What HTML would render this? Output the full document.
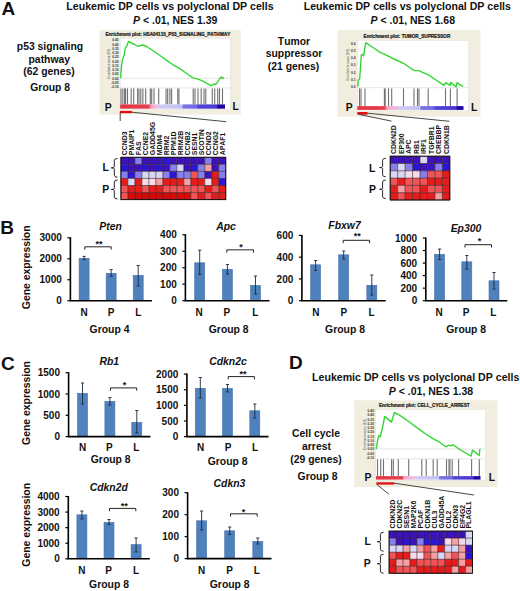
<!DOCTYPE html><html><head><meta charset="utf-8"><style>html,body{margin:0;padding:0;background:#fff;}svg{display:block;}text{font-family:"Liberation Sans",sans-serif;font-kerning:none;}</style></head><body>
<svg width="520" height="591" viewBox="0 0 520 591">
<rect width="520" height="591" fill="#fff"/>
<text x="1.6" y="15.2" font-size="19" text-anchor="start" font-weight="bold" fill="#111">A</text>
<text x="0.2" y="233.6" font-size="19" text-anchor="start" font-weight="bold" fill="#111">B</text>
<text x="0.9" y="370.3" font-size="19" text-anchor="start" font-weight="bold" fill="#111">C</text>
<text x="289.0" y="368.6" font-size="19" text-anchor="start" font-weight="bold" fill="#111">D</text>
<rect x="79.10" y="258.30" width="10.0" height="42.40" fill="#4f81bd" stroke="#4672aa" stroke-width="0.6"/>
<rect x="106.15" y="273.30" width="10.0" height="27.40" fill="#4f81bd" stroke="#4672aa" stroke-width="0.6"/>
<rect x="133.20" y="275.30" width="10.0" height="25.40" fill="#4f81bd" stroke="#4672aa" stroke-width="0.6"/>
<path d="M84.10 256.40V259.60M82.50 256.40H85.70M82.50 259.60H85.70" stroke="#1c2a40" stroke-width="0.9" fill="none"/>
<path d="M111.15 269.50V276.20M109.55 269.50H112.75M109.55 276.20H112.75" stroke="#1c2a40" stroke-width="0.9" fill="none"/>
<path d="M138.20 265.50V286.00M136.60 265.50H139.80M136.60 286.00H139.80" stroke="#1c2a40" stroke-width="0.9" fill="none"/>
<path d="M70.4 237.30V300.70H151.9" stroke="#000" stroke-width="1.6" fill="none"/>
<path d="M67.40 300.70H70.4" stroke="#000" stroke-width="1.2"/>
<text x="61.800000000000004" y="304.3" font-size="10.0" text-anchor="end" font-weight="bold" fill="#111">0</text>
<path d="M67.40 279.73H70.4" stroke="#000" stroke-width="1.2"/>
<text x="61.800000000000004" y="283.33333333333337" font-size="10.0" text-anchor="end" font-weight="bold" fill="#111">1000</text>
<path d="M67.40 258.77H70.4" stroke="#000" stroke-width="1.2"/>
<text x="61.800000000000004" y="262.3666666666667" font-size="10.0" text-anchor="end" font-weight="bold" fill="#111">2000</text>
<path d="M67.40 237.80H70.4" stroke="#000" stroke-width="1.2"/>
<text x="61.800000000000004" y="241.4" font-size="10.0" text-anchor="end" font-weight="bold" fill="#111">3000</text>
<text x="84.1" y="316" font-size="10.0" text-anchor="middle" font-weight="bold" fill="#111">N</text>
<text x="111.1" y="316" font-size="10.0" text-anchor="middle" font-weight="bold" fill="#111">P</text>
<text x="138.2" y="316" font-size="10.0" text-anchor="middle" font-weight="bold" fill="#111">L</text>
<text x="109.5" y="332.7" font-size="10.4" text-anchor="middle" font-weight="bold" fill="#111">Group 4</text>
<text x="110.5" y="230" font-size="10.4" text-anchor="middle" font-weight="bold" font-style="italic" fill="#111">Pten</text>
<path d="M84.8 249.60000000000002V246.8H111.2V249.60000000000002" stroke="#222" stroke-width="1.0" fill="none"/>
<text x="98.9" y="247.0" font-size="9" text-anchor="middle" font-weight="bold" fill="#111">**</text>
<rect x="194.70" y="262.80" width="10.0" height="37.90" fill="#4f81bd" stroke="#4672aa" stroke-width="0.6"/>
<rect x="222.40" y="269.30" width="10.0" height="31.40" fill="#4f81bd" stroke="#4672aa" stroke-width="0.6"/>
<rect x="250.50" y="285.30" width="10.0" height="15.40" fill="#4f81bd" stroke="#4672aa" stroke-width="0.6"/>
<path d="M199.70 250.20V274.50M198.10 250.20H201.30M198.10 274.50H201.30" stroke="#1c2a40" stroke-width="0.9" fill="none"/>
<path d="M227.40 264.50V274.00M225.80 264.50H229.00M225.80 274.00H229.00" stroke="#1c2a40" stroke-width="0.9" fill="none"/>
<path d="M255.50 276.00V294.00M253.90 276.00H257.10M253.90 294.00H257.10" stroke="#1c2a40" stroke-width="0.9" fill="none"/>
<path d="M185.4 234.25V300.70H269.5" stroke="#000" stroke-width="1.6" fill="none"/>
<path d="M182.40 300.70H185.4" stroke="#000" stroke-width="1.2"/>
<text x="176.8" y="304.3" font-size="10.0" text-anchor="end" font-weight="bold" fill="#111">0</text>
<path d="M182.40 284.21H185.4" stroke="#000" stroke-width="1.2"/>
<text x="176.8" y="287.8125" font-size="10.0" text-anchor="end" font-weight="bold" fill="#111">100</text>
<path d="M182.40 267.73H185.4" stroke="#000" stroke-width="1.2"/>
<text x="176.8" y="271.32500000000005" font-size="10.0" text-anchor="end" font-weight="bold" fill="#111">200</text>
<path d="M182.40 251.24H185.4" stroke="#000" stroke-width="1.2"/>
<text x="176.8" y="254.8375" font-size="10.0" text-anchor="end" font-weight="bold" fill="#111">300</text>
<path d="M182.40 234.75H185.4" stroke="#000" stroke-width="1.2"/>
<text x="176.8" y="238.35" font-size="10.0" text-anchor="end" font-weight="bold" fill="#111">400</text>
<text x="199.2" y="316" font-size="10.0" text-anchor="middle" font-weight="bold" fill="#111">N</text>
<text x="226.9" y="316" font-size="10.0" text-anchor="middle" font-weight="bold" fill="#111">P</text>
<text x="255.2" y="316" font-size="10.0" text-anchor="middle" font-weight="bold" fill="#111">L</text>
<text x="228.7" y="332.7" font-size="10.4" text-anchor="middle" font-weight="bold" fill="#111">Group 8</text>
<text x="226" y="229.5" font-size="10.4" text-anchor="middle" font-weight="bold" font-style="italic" fill="#111">Apc</text>
<path d="M226.8 252.65V249.85H253.5V252.65" stroke="#222" stroke-width="1.0" fill="none"/>
<text x="241.0" y="249.79999999999998" font-size="9" text-anchor="middle" font-weight="bold" fill="#111">*</text>
<rect x="310.60" y="264.80" width="10.0" height="35.90" fill="#4f81bd" stroke="#4672aa" stroke-width="0.6"/>
<rect x="338.70" y="254.80" width="10.0" height="45.90" fill="#4f81bd" stroke="#4672aa" stroke-width="0.6"/>
<rect x="366.80" y="285.30" width="10.0" height="15.40" fill="#4f81bd" stroke="#4672aa" stroke-width="0.6"/>
<path d="M315.60 260.50V270.50M314.00 260.50H317.20M314.00 270.50H317.20" stroke="#1c2a40" stroke-width="0.9" fill="none"/>
<path d="M343.70 251.00V259.00M342.10 251.00H345.30M342.10 259.00H345.30" stroke="#1c2a40" stroke-width="0.9" fill="none"/>
<path d="M371.80 275.00V295.00M370.20 275.00H373.40M370.20 295.00H373.40" stroke="#1c2a40" stroke-width="0.9" fill="none"/>
<path d="M301.9 234.90V300.70H385.8" stroke="#000" stroke-width="1.6" fill="none"/>
<path d="M298.90 300.70H301.9" stroke="#000" stroke-width="1.2"/>
<text x="293.29999999999995" y="304.3" font-size="10.0" text-anchor="end" font-weight="bold" fill="#111">0</text>
<path d="M298.90 278.93H301.9" stroke="#000" stroke-width="1.2"/>
<text x="293.29999999999995" y="282.53333333333336" font-size="10.0" text-anchor="end" font-weight="bold" fill="#111">200</text>
<path d="M298.90 257.17H301.9" stroke="#000" stroke-width="1.2"/>
<text x="293.29999999999995" y="260.7666666666667" font-size="10.0" text-anchor="end" font-weight="bold" fill="#111">400</text>
<path d="M298.90 235.40H301.9" stroke="#000" stroke-width="1.2"/>
<text x="293.29999999999995" y="239.0" font-size="10.0" text-anchor="end" font-weight="bold" fill="#111">600</text>
<text x="315.9" y="316" font-size="10.0" text-anchor="middle" font-weight="bold" fill="#111">N</text>
<text x="343.8" y="316" font-size="10.0" text-anchor="middle" font-weight="bold" fill="#111">P</text>
<text x="371.5" y="316" font-size="10.0" text-anchor="middle" font-weight="bold" fill="#111">L</text>
<text x="345" y="332.7" font-size="10.4" text-anchor="middle" font-weight="bold" fill="#111">Group 8</text>
<text x="344.5" y="228.5" font-size="10.4" text-anchor="middle" font-weight="bold" font-style="italic" fill="#111">Fbxw7</text>
<path d="M343.2 243.10000000000002V240.3H369.6V243.10000000000002" stroke="#222" stroke-width="1.0" fill="none"/>
<text x="357.3" y="239.4" font-size="9" text-anchor="middle" font-weight="bold" fill="#111">**</text>
<rect x="434.60" y="254.30" width="10.0" height="46.40" fill="#4f81bd" stroke="#4672aa" stroke-width="0.6"/>
<rect x="461.80" y="261.80" width="10.0" height="38.90" fill="#4f81bd" stroke="#4672aa" stroke-width="0.6"/>
<rect x="489.00" y="280.80" width="10.0" height="19.90" fill="#4f81bd" stroke="#4672aa" stroke-width="0.6"/>
<path d="M439.60 249.00V259.50M438.00 249.00H441.20M438.00 259.50H441.20" stroke="#1c2a40" stroke-width="0.9" fill="none"/>
<path d="M466.80 255.50V269.00M465.20 255.50H468.40M465.20 269.00H468.40" stroke="#1c2a40" stroke-width="0.9" fill="none"/>
<path d="M494.00 272.50V289.00M492.40 272.50H495.60M492.40 289.00H495.60" stroke="#1c2a40" stroke-width="0.9" fill="none"/>
<path d="M425.8 237.50V300.70H507.3" stroke="#000" stroke-width="1.6" fill="none"/>
<path d="M422.80 300.70H425.8" stroke="#000" stroke-width="1.2"/>
<text x="417.2" y="304.3" font-size="10.0" text-anchor="end" font-weight="bold" fill="#111">0</text>
<path d="M422.80 288.16H425.8" stroke="#000" stroke-width="1.2"/>
<text x="417.2" y="291.76" font-size="10.0" text-anchor="end" font-weight="bold" fill="#111">200</text>
<path d="M422.80 275.62H425.8" stroke="#000" stroke-width="1.2"/>
<text x="417.2" y="279.22" font-size="10.0" text-anchor="end" font-weight="bold" fill="#111">400</text>
<path d="M422.80 263.08H425.8" stroke="#000" stroke-width="1.2"/>
<text x="417.2" y="266.68" font-size="10.0" text-anchor="end" font-weight="bold" fill="#111">600</text>
<path d="M422.80 250.54H425.8" stroke="#000" stroke-width="1.2"/>
<text x="417.2" y="254.14" font-size="10.0" text-anchor="end" font-weight="bold" fill="#111">800</text>
<path d="M422.80 238.00H425.8" stroke="#000" stroke-width="1.2"/>
<text x="417.2" y="241.6" font-size="10.0" text-anchor="end" font-weight="bold" fill="#111">1000</text>
<text x="439.2" y="316" font-size="10.0" text-anchor="middle" font-weight="bold" fill="#111">N</text>
<text x="466.2" y="316" font-size="10.0" text-anchor="middle" font-weight="bold" fill="#111">P</text>
<text x="493.2" y="316" font-size="10.0" text-anchor="middle" font-weight="bold" fill="#111">L</text>
<text x="466.2" y="332.7" font-size="10.4" text-anchor="middle" font-weight="bold" fill="#111">Group 8</text>
<text x="466" y="232" font-size="10.4" text-anchor="middle" font-weight="bold" font-style="italic" fill="#111">Ep300</text>
<path d="M465 247.5V244.7H491.5V247.5" stroke="#222" stroke-width="1.0" fill="none"/>
<text x="479.4" y="243.7" font-size="9" text-anchor="middle" font-weight="bold" fill="#111">*</text>
<rect x="77.50" y="393.30" width="10.0" height="43.30" fill="#4f81bd" stroke="#4672aa" stroke-width="0.6"/>
<rect x="104.90" y="401.30" width="10.0" height="35.30" fill="#4f81bd" stroke="#4672aa" stroke-width="0.6"/>
<rect x="131.80" y="422.30" width="10.0" height="14.30" fill="#4f81bd" stroke="#4672aa" stroke-width="0.6"/>
<path d="M82.50 383.00V404.00M80.90 383.00H84.10M80.90 404.00H84.10" stroke="#1c2a40" stroke-width="0.9" fill="none"/>
<path d="M109.90 397.50V405.00M108.30 397.50H111.50M108.30 405.00H111.50" stroke="#1c2a40" stroke-width="0.9" fill="none"/>
<path d="M136.80 410.50V433.00M135.20 410.50H138.40M135.20 433.00H138.40" stroke="#1c2a40" stroke-width="0.9" fill="none"/>
<path d="M68.6 372.20V436.60H150.4" stroke="#000" stroke-width="1.6" fill="none"/>
<path d="M65.60 436.60H68.6" stroke="#000" stroke-width="1.2"/>
<text x="59.99999999999999" y="440.20000000000005" font-size="10.0" text-anchor="end" font-weight="bold" fill="#111">0</text>
<path d="M65.60 415.30H68.6" stroke="#000" stroke-width="1.2"/>
<text x="59.99999999999999" y="418.90000000000003" font-size="10.0" text-anchor="end" font-weight="bold" fill="#111">500</text>
<path d="M65.60 394.00H68.6" stroke="#000" stroke-width="1.2"/>
<text x="59.99999999999999" y="397.6" font-size="10.0" text-anchor="end" font-weight="bold" fill="#111">1000</text>
<path d="M65.60 372.70H68.6" stroke="#000" stroke-width="1.2"/>
<text x="59.99999999999999" y="376.3" font-size="10.0" text-anchor="end" font-weight="bold" fill="#111">1500</text>
<text x="82.7" y="451.2" font-size="10.0" text-anchor="middle" font-weight="bold" fill="#111">N</text>
<text x="109.4" y="451.2" font-size="10.0" text-anchor="middle" font-weight="bold" fill="#111">P</text>
<text x="136.3" y="451.2" font-size="10.0" text-anchor="middle" font-weight="bold" fill="#111">L</text>
<text x="110.7" y="462.7" font-size="10.4" text-anchor="middle" font-weight="bold" fill="#111">Group 8</text>
<text x="109.3" y="364.6" font-size="10.4" text-anchor="middle" font-weight="bold" font-style="italic" fill="#111">Rb1</text>
<path d="M110.4 390.7V387.9H136.7V390.7" stroke="#222" stroke-width="1.0" fill="none"/>
<text x="124.6" y="388.1" font-size="9" text-anchor="middle" font-weight="bold" fill="#111">*</text>
<rect x="195.30" y="388.30" width="10.0" height="48.30" fill="#4f81bd" stroke="#4672aa" stroke-width="0.6"/>
<rect x="222.50" y="388.30" width="10.0" height="48.30" fill="#4f81bd" stroke="#4672aa" stroke-width="0.6"/>
<rect x="249.80" y="410.80" width="10.0" height="25.80" fill="#4f81bd" stroke="#4672aa" stroke-width="0.6"/>
<path d="M200.30 377.50V398.00M198.70 377.50H201.90M198.70 398.00H201.90" stroke="#1c2a40" stroke-width="0.9" fill="none"/>
<path d="M227.50 384.50V392.00M225.90 384.50H229.10M225.90 392.00H229.10" stroke="#1c2a40" stroke-width="0.9" fill="none"/>
<path d="M254.80 404.00V418.00M253.20 404.00H256.40M253.20 418.00H256.40" stroke="#1c2a40" stroke-width="0.9" fill="none"/>
<path d="M186.9 373.60V436.60H268.5" stroke="#000" stroke-width="1.6" fill="none"/>
<path d="M183.90 436.60H186.9" stroke="#000" stroke-width="1.2"/>
<text x="178.3" y="440.20000000000005" font-size="10.0" text-anchor="end" font-weight="bold" fill="#111">0</text>
<path d="M183.90 420.98H186.9" stroke="#000" stroke-width="1.2"/>
<text x="178.3" y="424.57500000000005" font-size="10.0" text-anchor="end" font-weight="bold" fill="#111">500</text>
<path d="M183.90 405.35H186.9" stroke="#000" stroke-width="1.2"/>
<text x="178.3" y="408.95000000000005" font-size="10.0" text-anchor="end" font-weight="bold" fill="#111">1000</text>
<path d="M183.90 389.73H186.9" stroke="#000" stroke-width="1.2"/>
<text x="178.3" y="393.32500000000005" font-size="10.0" text-anchor="end" font-weight="bold" fill="#111">1500</text>
<path d="M183.90 374.10H186.9" stroke="#000" stroke-width="1.2"/>
<text x="178.3" y="377.70000000000005" font-size="10.0" text-anchor="end" font-weight="bold" fill="#111">2000</text>
<text x="200.6" y="451.2" font-size="10.0" text-anchor="middle" font-weight="bold" fill="#111">N</text>
<text x="228" y="451.2" font-size="10.0" text-anchor="middle" font-weight="bold" fill="#111">P</text>
<text x="255" y="451.2" font-size="10.0" text-anchor="middle" font-weight="bold" fill="#111">L</text>
<text x="227.6" y="464.8" font-size="10.4" text-anchor="middle" font-weight="bold" fill="#111">Group 8</text>
<text x="228" y="365.2" font-size="10.4" text-anchor="middle" font-weight="bold" font-style="italic" fill="#111">Cdkn2c</text>
<path d="M228.2 379.40000000000003V376.6H254.4V379.40000000000003" stroke="#222" stroke-width="1.0" fill="none"/>
<text x="243" y="376.6" font-size="9" text-anchor="middle" font-weight="bold" fill="#111">**</text>
<rect x="76.90" y="514.80" width="10.0" height="44.00" fill="#4f81bd" stroke="#4672aa" stroke-width="0.6"/>
<rect x="104.00" y="522.30" width="10.0" height="36.50" fill="#4f81bd" stroke="#4672aa" stroke-width="0.6"/>
<rect x="131.10" y="544.60" width="10.0" height="14.20" fill="#4f81bd" stroke="#4672aa" stroke-width="0.6"/>
<path d="M81.90 511.00V519.00M80.30 511.00H83.50M80.30 519.00H83.50" stroke="#1c2a40" stroke-width="0.9" fill="none"/>
<path d="M109.00 519.50V524.50M107.40 519.50H110.60M107.40 524.50H110.60" stroke="#1c2a40" stroke-width="0.9" fill="none"/>
<path d="M136.10 538.00V552.00M134.50 538.00H137.70M134.50 552.00H137.70" stroke="#1c2a40" stroke-width="0.9" fill="none"/>
<path d="M68.3 496.00V558.80H149.8" stroke="#000" stroke-width="1.6" fill="none"/>
<path d="M65.30 558.80H68.3" stroke="#000" stroke-width="1.2"/>
<text x="59.699999999999996" y="562.4" font-size="10.0" text-anchor="end" font-weight="bold" fill="#111">0</text>
<path d="M65.30 543.22H68.3" stroke="#000" stroke-width="1.2"/>
<text x="59.699999999999996" y="546.8249999999999" font-size="10.0" text-anchor="end" font-weight="bold" fill="#111">1000</text>
<path d="M65.30 527.65H68.3" stroke="#000" stroke-width="1.2"/>
<text x="59.699999999999996" y="531.25" font-size="10.0" text-anchor="end" font-weight="bold" fill="#111">2000</text>
<path d="M65.30 512.08H68.3" stroke="#000" stroke-width="1.2"/>
<text x="59.699999999999996" y="515.6750000000001" font-size="10.0" text-anchor="end" font-weight="bold" fill="#111">3000</text>
<path d="M65.30 496.50H68.3" stroke="#000" stroke-width="1.2"/>
<text x="59.699999999999996" y="500.1" font-size="10.0" text-anchor="end" font-weight="bold" fill="#111">4000</text>
<text x="81.9" y="574.2" font-size="10.0" text-anchor="middle" font-weight="bold" fill="#111">N</text>
<text x="108.5" y="574.2" font-size="10.0" text-anchor="middle" font-weight="bold" fill="#111">P</text>
<text x="136" y="574.2" font-size="10.0" text-anchor="middle" font-weight="bold" fill="#111">L</text>
<text x="109" y="587.6" font-size="10.4" text-anchor="middle" font-weight="bold" fill="#111">Group 8</text>
<text x="108.8" y="490.6" font-size="10.4" text-anchor="middle" font-weight="bold" font-style="italic" fill="#111">Cdkn2d</text>
<path d="M109.5 511.2V508.4H135.8V511.2" stroke="#222" stroke-width="1.0" fill="none"/>
<text x="124.2" y="508.5" font-size="9" text-anchor="middle" font-weight="bold" fill="#111">**</text>
<rect x="196.60" y="520.80" width="10.0" height="37.80" fill="#4f81bd" stroke="#4672aa" stroke-width="0.6"/>
<rect x="224.70" y="530.80" width="10.0" height="27.80" fill="#4f81bd" stroke="#4672aa" stroke-width="0.6"/>
<rect x="252.80" y="541.30" width="10.0" height="17.30" fill="#4f81bd" stroke="#4672aa" stroke-width="0.6"/>
<path d="M201.60 511.00V530.00M200.00 511.00H203.20M200.00 530.00H203.20" stroke="#1c2a40" stroke-width="0.9" fill="none"/>
<path d="M229.70 527.00V534.50M228.10 527.00H231.30M228.10 534.50H231.30" stroke="#1c2a40" stroke-width="0.9" fill="none"/>
<path d="M257.80 538.00V544.00M256.20 538.00H259.40M256.20 544.00H259.40" stroke="#1c2a40" stroke-width="0.9" fill="none"/>
<path d="M187.6 492.20V558.60H271.5" stroke="#000" stroke-width="1.6" fill="none"/>
<path d="M184.60 558.60H187.6" stroke="#000" stroke-width="1.2"/>
<text x="179.0" y="562.2" font-size="10.0" text-anchor="end" font-weight="bold" fill="#111">0</text>
<path d="M184.60 536.63H187.6" stroke="#000" stroke-width="1.2"/>
<text x="179.0" y="540.2333333333333" font-size="10.0" text-anchor="end" font-weight="bold" fill="#111">100</text>
<path d="M184.60 514.67H187.6" stroke="#000" stroke-width="1.2"/>
<text x="179.0" y="518.2666666666667" font-size="10.0" text-anchor="end" font-weight="bold" fill="#111">200</text>
<path d="M184.60 492.70H187.6" stroke="#000" stroke-width="1.2"/>
<text x="179.0" y="496.3" font-size="10.0" text-anchor="end" font-weight="bold" fill="#111">300</text>
<text x="201.5" y="574.0" font-size="10.0" text-anchor="middle" font-weight="bold" fill="#111">N</text>
<text x="229.6" y="574.0" font-size="10.0" text-anchor="middle" font-weight="bold" fill="#111">P</text>
<text x="256.9" y="574.0" font-size="10.0" text-anchor="middle" font-weight="bold" fill="#111">L</text>
<text x="229.7" y="587.6" font-size="10.4" text-anchor="middle" font-weight="bold" fill="#111">Group 8</text>
<text x="229.5" y="487.2" font-size="10.4" text-anchor="middle" font-weight="bold" font-style="italic" fill="#111">Cdkn3</text>
<path d="M230.5 516.5999999999999V513.8H257.2V516.5999999999999" stroke="#222" stroke-width="1.0" fill="none"/>
<text x="243.5" y="514.5" font-size="9" text-anchor="middle" font-weight="bold" fill="#111">*</text>
<text transform="translate(26.6,267.3) rotate(-90)" x="0" y="3.74" font-size="10.4" text-anchor="middle" font-weight="bold" fill="#111">Gene expression</text>
<text transform="translate(26.6,403) rotate(-90)" x="0" y="3.74" font-size="10.4" text-anchor="middle" font-weight="bold" fill="#111">Gene expression</text>
<text transform="translate(26.6,524.8) rotate(-90)" x="0" y="3.74" font-size="10.4" text-anchor="middle" font-weight="bold" fill="#111">Gene expression</text>
<text x="170.0" y="10.1" font-size="10.6" text-anchor="middle" font-weight="bold" fill="#111">Leukemic DP cells vs polyclonal DP cells</text>
<text x="175.2" y="23.7" font-size="10.5" text-anchor="middle" font-weight="bold" fill="#111"><tspan font-style="italic">P</tspan> &lt; .01, NES 1.39</text>
<text x="407.3" y="10.1" font-size="10.6" text-anchor="middle" font-weight="bold" fill="#111">Leukemic DP cells vs polyclonal DP cells</text>
<text x="412.8" y="23.7" font-size="10.5" text-anchor="middle" font-weight="bold" fill="#111"><tspan font-style="italic">P</tspan> &lt; .01, NES 1.68</text>
<text x="415.7" y="380.9" font-size="10.6" text-anchor="middle" font-weight="bold" fill="#111">Leukemic DP cells vs polyclonal DP cells</text>
<text x="431.0" y="395.0" font-size="10.5" text-anchor="middle" font-weight="bold" fill="#111"><tspan font-style="italic">P</tspan> &lt; .01, NES 1.38</text>
<text x="50" y="50.4" font-size="10.4" text-anchor="middle" font-weight="bold" fill="#111">p53 signaling</text>
<text x="49.3" y="62.7" font-size="10.4" text-anchor="middle" font-weight="bold" fill="#111">pathway</text>
<text x="49" y="75.3" font-size="10.4" text-anchor="middle" font-weight="bold" fill="#111">(62 genes)</text>
<text x="50.2" y="91.2" font-size="10.4" text-anchor="middle" font-weight="bold" fill="#111">Group 8</text>
<text x="294" y="44.8" font-size="10.4" text-anchor="middle" font-weight="bold" fill="#111">Tumor</text>
<text x="294" y="57.4" font-size="10.4" text-anchor="middle" font-weight="bold" fill="#111">suppressor</text>
<text x="293.5" y="70.2" font-size="10.4" text-anchor="middle" font-weight="bold" fill="#111">(21 genes)</text>
<text x="316" y="437.2" font-size="10.4" text-anchor="middle" font-weight="bold" fill="#111">Cell cycle</text>
<text x="316.5" y="449.5" font-size="10.4" text-anchor="middle" font-weight="bold" fill="#111">arrest</text>
<text x="316" y="462.7" font-size="10.4" text-anchor="middle" font-weight="bold" fill="#111">(29 genes)</text>
<text x="317.5" y="480.3" font-size="10.4" text-anchor="middle" font-weight="bold" fill="#111">Group 8</text>
<rect x="99.4" y="30.0" width="141.4" height="84.5" fill="#f1eee0"/>
<rect x="120.2" y="38.2" width="110.2" height="71.39999999999999" fill="#fff" stroke="#d8d8d8" stroke-width="0.4"/>
<text x="105.5" y="36.4" font-size="4.6" font-weight="bold" fill="#111" stroke="#111" stroke-width="0.18" textLength="124.9" lengthAdjust="spacingAndGlyphs">Enrichment plot: HSA04115_P53_SIGNALING_PATHWAY</text>
<text x="118.60000000000001" y="41.300000000000004" font-size="3.3" font-weight="bold" text-anchor="end" fill="#333">0.45</text>
<text x="118.60000000000001" y="45.550000000000004" font-size="3.3" font-weight="bold" text-anchor="end" fill="#333">0.40</text>
<text x="118.60000000000001" y="49.800000000000004" font-size="3.3" font-weight="bold" text-anchor="end" fill="#333">0.35</text>
<text x="118.60000000000001" y="54.050000000000004" font-size="3.3" font-weight="bold" text-anchor="end" fill="#333">0.30</text>
<text x="118.60000000000001" y="58.300000000000004" font-size="3.3" font-weight="bold" text-anchor="end" fill="#333">0.25</text>
<text x="118.60000000000001" y="62.550000000000004" font-size="3.3" font-weight="bold" text-anchor="end" fill="#333">0.20</text>
<text x="118.60000000000001" y="66.8" font-size="3.3" font-weight="bold" text-anchor="end" fill="#333">0.15</text>
<text x="118.60000000000001" y="71.05" font-size="3.3" font-weight="bold" text-anchor="end" fill="#333">0.10</text>
<text x="118.60000000000001" y="75.3" font-size="3.3" font-weight="bold" text-anchor="end" fill="#333">0.05</text>
<text x="118.60000000000001" y="79.55" font-size="3.3" font-weight="bold" text-anchor="end" fill="#333">0.00</text>
<text x="118.60000000000001" y="83.8" font-size="3.3" font-weight="bold" text-anchor="end" fill="#333">-0.05</text>
<text x="118.60000000000001" y="88.05" font-size="3.3" font-weight="bold" text-anchor="end" fill="#333">-0.10</text>
<text transform="translate(110.2,63.800000000000004) rotate(-90)" x="0" y="0" font-size="3" text-anchor="middle" fill="#444" textLength="30.200000000000003" lengthAdjust="spacingAndGlyphs">Enrichment score (ES)</text>
<path d="M120.2 78.3H230.4" stroke="#c8c8c8" stroke-width="0.5"/>
<path d="M120.2 87.9H230.4" stroke="#cfcfcf" stroke-width="0.5"/>
<path d="M121 88.4V104.4" stroke="#707070" stroke-width="1.1"/>
<path d="M122.8 88.4V104.4" stroke="#707070" stroke-width="1.1"/>
<path d="M124.6 88.4V104.4" stroke="#707070" stroke-width="1.1"/>
<path d="M125.6 88.4V104.4" stroke="#707070" stroke-width="1.1"/>
<path d="M127.5 88.4V104.4" stroke="#707070" stroke-width="1.1"/>
<path d="M131.2 88.4V104.4" stroke="#707070" stroke-width="1.1"/>
<path d="M133.7 88.4V104.4" stroke="#707070" stroke-width="1.1"/>
<path d="M137.6 88.4V104.4" stroke="#707070" stroke-width="1.1"/>
<path d="M139 88.4V104.4" stroke="#707070" stroke-width="1.1"/>
<path d="M140.8 88.4V104.4" stroke="#707070" stroke-width="1.1"/>
<path d="M142.9 88.4V104.4" stroke="#707070" stroke-width="1.1"/>
<path d="M145.7 88.4V104.4" stroke="#707070" stroke-width="1.1"/>
<path d="M150.3 88.4V104.4" stroke="#707070" stroke-width="1.1"/>
<path d="M151.7 88.4V104.4" stroke="#707070" stroke-width="1.1"/>
<path d="M154 88.4V104.4" stroke="#707070" stroke-width="1.1"/>
<path d="M158.7 88.4V104.4" stroke="#707070" stroke-width="1.1"/>
<path d="M166.1 88.4V104.4" stroke="#707070" stroke-width="1.1"/>
<path d="M167.7 88.4V104.4" stroke="#707070" stroke-width="1.1"/>
<path d="M169.9 88.4V104.4" stroke="#707070" stroke-width="1.1"/>
<path d="M171.6 88.4V104.4" stroke="#707070" stroke-width="1.1"/>
<path d="M177.8 88.4V104.4" stroke="#707070" stroke-width="1.1"/>
<path d="M178.9 88.4V104.4" stroke="#707070" stroke-width="1.1"/>
<path d="M193.2 88.4V104.4" stroke="#707070" stroke-width="1.1"/>
<path d="M195 88.4V104.4" stroke="#707070" stroke-width="1.1"/>
<path d="M198 88.4V104.4" stroke="#707070" stroke-width="1.1"/>
<path d="M201.2 88.4V104.4" stroke="#707070" stroke-width="1.1"/>
<path d="M204 88.4V104.4" stroke="#707070" stroke-width="1.1"/>
<path d="M205.8 88.4V104.4" stroke="#707070" stroke-width="1.1"/>
<path d="M212.3 88.4V104.4" stroke="#707070" stroke-width="1.1"/>
<path d="M214.7 88.4V104.4" stroke="#707070" stroke-width="1.1"/>
<path d="M217.7 88.4V104.4" stroke="#707070" stroke-width="1.1"/>
<path d="M219.5 88.4V104.4" stroke="#707070" stroke-width="1.1"/>
<path d="M222.5 88.4V104.4" stroke="#707070" stroke-width="1.1"/>
<defs><linearGradient id="gA1" x1="0" x2="1" y1="0" y2="0"><stop offset="0" stop-color="#e43444"/><stop offset="0.27" stop-color="#e64050"/><stop offset="0.3" stop-color="#f2a6cc"/><stop offset="0.36" stop-color="#ecc0e4"/><stop offset="0.39" stop-color="#d0cbf4"/><stop offset="0.59" stop-color="#c4c0f6"/><stop offset="0.6" stop-color="#7c74e2"/><stop offset="0.73" stop-color="#7068e0"/><stop offset="0.74" stop-color="#5444d6"/><stop offset="0.92" stop-color="#4a38d0"/><stop offset="0.93" stop-color="#22069e"/><stop offset="1" stop-color="#22069e"/></linearGradient></defs>
<rect x="120.2" y="104.4" width="104.8" height="4.299999999999997" fill="url(#gA1)"/>
<polyline points="120.60,78.30 121.50,66.00 122.50,59.50 124.20,55.00 125.40,47.50 126.60,46.50 128.50,41.50 131.50,43.00 134.50,44.50 138.00,46.40 140.50,45.50 143.00,45.00 146.50,46.50 152.00,50.00 160.00,55.50 167.00,60.60 173.00,64.80 178.60,67.80 184.00,71.50 188.00,74.50 192.60,77.60 198.00,79.20 203.00,81.20 207.00,83.30 211.30,85.80 213.50,84.00 215.50,84.60 217.60,82.00 219.80,78.50 221.50,77.00 222.50,78.20 224.20,77.60" fill="none" stroke="#33d633" stroke-width="1.4" stroke-linejoin="round"/>
<text x="104.7" y="110.6" font-size="10.4" text-anchor="start" font-weight="bold" fill="#111">P</text>
<text x="232.6" y="109.6" font-size="10.4" text-anchor="start" font-weight="bold" fill="#111">L</text>
<rect x="120.0" y="110.9" width="11.900000000000006" height="2.299999999999997" fill="#e01010"/>
<path d="M120.2 112.5L120.2 121.0" stroke="#333" stroke-width="0.9" fill="none"/>
<path d="M131.9 112.2L226.2 121.7" stroke="#333" stroke-width="0.9" fill="none"/>
<rect x="337.4" y="30.1" width="143.0" height="86.5" fill="#f1eee0"/>
<rect x="357.3" y="40.4" width="111.19999999999999" height="70.4" fill="#fff" stroke="#d8d8d8" stroke-width="0.4"/>
<text x="363.6" y="37.8" font-size="4.6" font-weight="bold" fill="#111" stroke="#111" stroke-width="0.18" textLength="86.69999999999999" lengthAdjust="spacingAndGlyphs">Enrichment plot: TUMOR_SUPRESSOR</text>
<text x="355.7" y="44.800000000000004" font-size="3.3" font-weight="bold" text-anchor="end" fill="#333">0.6</text>
<text x="355.7" y="52.00000000000001" font-size="3.3" font-weight="bold" text-anchor="end" fill="#333">0.5</text>
<text x="355.7" y="59.2" font-size="3.3" font-weight="bold" text-anchor="end" fill="#333">0.4</text>
<text x="355.7" y="66.4" font-size="3.3" font-weight="bold" text-anchor="end" fill="#333">0.3</text>
<text x="355.7" y="73.60000000000001" font-size="3.3" font-weight="bold" text-anchor="end" fill="#333">0.2</text>
<text x="355.7" y="80.8" font-size="3.3" font-weight="bold" text-anchor="end" fill="#333">0.1</text>
<text x="355.7" y="88.00000000000001" font-size="3.3" font-weight="bold" text-anchor="end" fill="#333">0.0</text>
<text transform="translate(349.3,64.6) rotate(-90)" x="0" y="0" font-size="3" text-anchor="middle" fill="#444" textLength="31.799999999999997" lengthAdjust="spacingAndGlyphs">Enrichment score (ES)</text>
<path d="M357.3 87.7H468.5" stroke="#cfcfcf" stroke-width="0.5"/>
<path d="M359.5 88.4V106.1" stroke="#707070" stroke-width="1.1"/>
<path d="M361 88.4V106.1" stroke="#707070" stroke-width="1.1"/>
<path d="M365 88.4V106.1" stroke="#707070" stroke-width="1.1"/>
<path d="M384.4 88.4V106.1" stroke="#707070" stroke-width="1.1"/>
<path d="M385.2 88.4V106.1" stroke="#707070" stroke-width="1.1"/>
<path d="M388.5 88.4V106.1" stroke="#707070" stroke-width="1.1"/>
<path d="M391.7 88.4V106.1" stroke="#707070" stroke-width="1.1"/>
<path d="M403.5 88.4V106.1" stroke="#707070" stroke-width="1.1"/>
<path d="M414 88.4V106.1" stroke="#707070" stroke-width="1.1"/>
<path d="M417.5 88.4V106.1" stroke="#707070" stroke-width="1.1"/>
<path d="M419 88.4V106.1" stroke="#707070" stroke-width="1.1"/>
<path d="M428.2 88.4V106.1" stroke="#707070" stroke-width="1.1"/>
<path d="M445.5 88.4V106.1" stroke="#707070" stroke-width="1.1"/>
<path d="M450.4 88.4V106.1" stroke="#707070" stroke-width="1.1"/>
<path d="M457.1 88.4V106.1" stroke="#707070" stroke-width="1.1"/>
<defs><linearGradient id="gA2" x1="0" x2="1" y1="0" y2="0"><stop offset="0" stop-color="#e43444"/><stop offset="0.256" stop-color="#e64050"/><stop offset="0.28" stop-color="#f2a6cc"/><stop offset="0.38" stop-color="#ecc0e4"/><stop offset="0.4" stop-color="#d0cbf4"/><stop offset="0.59" stop-color="#c4c0f6"/><stop offset="0.6" stop-color="#7c74e2"/><stop offset="0.72" stop-color="#7068e0"/><stop offset="0.73" stop-color="#5444d6"/><stop offset="0.9299999999999999" stop-color="#4a38d0"/><stop offset="0.94" stop-color="#22069e"/><stop offset="1" stop-color="#22069e"/></linearGradient></defs>
<rect x="357.3" y="106.1" width="106.19999999999999" height="3.8000000000000114" fill="url(#gA2)"/>
<polyline points="357.80,86.50 358.10,80.50 359.70,78.60 361.30,55.00 362.90,54.30 363.60,55.90 365.70,42.60 373.00,47.50 380.00,52.40 384.30,54.20 395.00,59.50 404.20,63.70 410.00,67.80 414.60,70.60 418.90,70.60 422.00,72.20 428.40,74.90 436.00,80.00 444.00,85.30 445.70,82.70 450.10,85.30 450.60,82.40 456.10,87.00 457.00,82.70 463.00,86.70" fill="none" stroke="#33d633" stroke-width="1.4" stroke-linejoin="round"/>
<text x="345.7" y="111.0" font-size="10.4" text-anchor="start" font-weight="bold" fill="#111">P</text>
<text x="471.0" y="110.6" font-size="10.4" text-anchor="start" font-weight="bold" fill="#111">L</text>
<rect x="357.3" y="112.0" width="10.300000000000011" height="2.700000000000003" fill="#e01010"/>
<path d="M358.9 114.4L391.5 121.1" stroke="#333" stroke-width="0.9" fill="none"/>
<path d="M367.6 113.2L449.4 121.3" stroke="#333" stroke-width="0.9" fill="none"/>
<rect x="354.3" y="400.3" width="143.2" height="86.69999999999999" fill="#f1eee0"/>
<rect x="375.6" y="409.4" width="110.0" height="71.0" fill="#fff" stroke="#d8d8d8" stroke-width="0.4"/>
<text x="379.0" y="407.4" font-size="4.6" font-weight="bold" fill="#111" stroke="#111" stroke-width="0.18" textLength="90.69999999999999" lengthAdjust="spacingAndGlyphs">Enrichment plot: CELL_CYCLE_ARREST</text>
<text x="374.0" y="412.2" font-size="3.3" font-weight="bold" text-anchor="end" fill="#333">0.45</text>
<text x="374.0" y="416.45" font-size="3.3" font-weight="bold" text-anchor="end" fill="#333">0.40</text>
<text x="374.0" y="420.7" font-size="3.3" font-weight="bold" text-anchor="end" fill="#333">0.35</text>
<text x="374.0" y="424.95" font-size="3.3" font-weight="bold" text-anchor="end" fill="#333">0.30</text>
<text x="374.0" y="429.2" font-size="3.3" font-weight="bold" text-anchor="end" fill="#333">0.25</text>
<text x="374.0" y="433.45" font-size="3.3" font-weight="bold" text-anchor="end" fill="#333">0.20</text>
<text x="374.0" y="437.7" font-size="3.3" font-weight="bold" text-anchor="end" fill="#333">0.15</text>
<text x="374.0" y="441.95" font-size="3.3" font-weight="bold" text-anchor="end" fill="#333">0.10</text>
<text x="374.0" y="446.2" font-size="3.3" font-weight="bold" text-anchor="end" fill="#333">0.05</text>
<text x="374.0" y="450.45" font-size="3.3" font-weight="bold" text-anchor="end" fill="#333">0.00</text>
<text x="374.0" y="454.7" font-size="3.3" font-weight="bold" text-anchor="end" fill="#333">-0.05</text>
<text x="374.0" y="458.95" font-size="3.3" font-weight="bold" text-anchor="end" fill="#333">-0.10</text>
<text transform="translate(365.6,434.5) rotate(-90)" x="0" y="0" font-size="3" text-anchor="middle" fill="#444" textLength="31" lengthAdjust="spacingAndGlyphs">Enrichment score (ES)</text>
<path d="M375.6 449.0H485.6" stroke="#c8c8c8" stroke-width="0.5"/>
<path d="M375.6 458.8H485.6" stroke="#cfcfcf" stroke-width="0.5"/>
<path d="M377.5 459.3V476.1" stroke="#707070" stroke-width="1.1"/>
<path d="M380.7 459.3V476.1" stroke="#707070" stroke-width="1.1"/>
<path d="M383.5 459.3V476.1" stroke="#707070" stroke-width="1.1"/>
<path d="M391.6 459.3V476.1" stroke="#707070" stroke-width="1.1"/>
<path d="M393.3 459.3V476.1" stroke="#707070" stroke-width="1.1"/>
<path d="M398.3 459.3V476.1" stroke="#707070" stroke-width="1.1"/>
<path d="M408.7 459.3V476.1" stroke="#707070" stroke-width="1.1"/>
<path d="M421.8 459.3V476.1" stroke="#707070" stroke-width="1.1"/>
<path d="M426.2 459.3V476.1" stroke="#707070" stroke-width="1.1"/>
<path d="M433.2 459.3V476.1" stroke="#707070" stroke-width="1.1"/>
<path d="M437.2 459.3V476.1" stroke="#707070" stroke-width="1.1"/>
<path d="M446.5 459.3V476.1" stroke="#707070" stroke-width="1.1"/>
<path d="M449 459.3V476.1" stroke="#707070" stroke-width="1.1"/>
<path d="M449.9 459.3V476.1" stroke="#707070" stroke-width="1.1"/>
<path d="M452.2 459.3V476.1" stroke="#707070" stroke-width="1.1"/>
<path d="M458.6 459.3V476.1" stroke="#707070" stroke-width="1.1"/>
<path d="M471.6 459.3V476.1" stroke="#707070" stroke-width="1.1"/>
<path d="M479.3 459.3V476.1" stroke="#707070" stroke-width="1.1"/>
<defs><linearGradient id="gD" x1="0" x2="1" y1="0" y2="0"><stop offset="0" stop-color="#e43444"/><stop offset="0.25" stop-color="#e64050"/><stop offset="0.27" stop-color="#f2a6cc"/><stop offset="0.37" stop-color="#ecc0e4"/><stop offset="0.39" stop-color="#d0cbf4"/><stop offset="0.6" stop-color="#c4c0f6"/><stop offset="0.61" stop-color="#7c74e2"/><stop offset="0.73" stop-color="#7068e0"/><stop offset="0.74" stop-color="#5444d6"/><stop offset="0.9299999999999999" stop-color="#4a38d0"/><stop offset="0.94" stop-color="#22069e"/><stop offset="1" stop-color="#22069e"/></linearGradient></defs>
<rect x="376.0" y="476.1" width="104.5" height="3.5" fill="url(#gD)"/>
<polyline points="376.30,449.00 377.50,441.10 378.60,435.80 380.10,436.80 382.40,428.20 384.70,416.40 391.50,422.10 394.30,412.50 399.10,414.90 408.30,421.30 420.00,429.90 425.00,433.50 432.80,438.60 438.20,441.30 445.60,446.70 447.60,446.00 449.30,445.10 451.00,446.00 453.00,444.70 457.70,448.10 464.00,452.00 471.10,456.10 472.50,450.10 479.20,455.50 479.90,448.70" fill="none" stroke="#33d633" stroke-width="1.4" stroke-linejoin="round"/>
<text x="364.6" y="481.0" font-size="10.4" text-anchor="start" font-weight="bold" fill="#111">P</text>
<text x="488.8" y="481.2" font-size="10.4" text-anchor="start" font-weight="bold" fill="#111">L</text>
<rect x="376.3" y="482.3" width="18.0" height="2.3000000000000114" fill="#e01010"/>
<path d="M376.8 484.3L388.8 494.2" stroke="#333" stroke-width="0.9" fill="none"/>
<path d="M394.3 483.2L473.9 495.0" stroke="#333" stroke-width="0.9" fill="none"/>
<rect x="120.90" y="157.30" width="6.99" height="7.05" fill="#3c12bc"/>
<rect x="127.89" y="157.30" width="6.99" height="7.05" fill="#3c12bc"/>
<rect x="134.88" y="157.30" width="6.99" height="7.05" fill="#8680ec"/>
<rect x="141.87" y="157.30" width="6.99" height="7.05" fill="#3c12bc"/>
<rect x="148.86" y="157.30" width="6.99" height="7.05" fill="#3c12bc"/>
<rect x="155.85" y="157.30" width="6.99" height="7.05" fill="#3c12bc"/>
<rect x="162.84" y="157.30" width="6.99" height="7.05" fill="#2c16d6"/>
<rect x="169.83" y="157.30" width="6.99" height="7.05" fill="#3c12bc"/>
<rect x="176.82" y="157.30" width="6.99" height="7.05" fill="#3c12bc"/>
<rect x="183.81" y="157.30" width="6.99" height="7.05" fill="#3c12bc"/>
<rect x="190.80" y="157.30" width="6.99" height="7.05" fill="#3c12bc"/>
<rect x="197.79" y="157.30" width="6.99" height="7.05" fill="#3c12bc"/>
<rect x="204.78" y="157.30" width="6.99" height="7.05" fill="#8680ec"/>
<rect x="211.77" y="157.30" width="6.99" height="7.05" fill="#3c12bc"/>
<rect x="218.76" y="157.30" width="6.99" height="7.05" fill="#3c12bc"/>
<rect x="120.90" y="164.35" width="6.99" height="7.05" fill="#2c16d6"/>
<rect x="127.89" y="164.35" width="6.99" height="7.05" fill="#3c12bc"/>
<rect x="134.88" y="164.35" width="6.99" height="7.05" fill="#3c12bc"/>
<rect x="141.87" y="164.35" width="6.99" height="7.05" fill="#2c16d6"/>
<rect x="148.86" y="164.35" width="6.99" height="7.05" fill="#3c12bc"/>
<rect x="155.85" y="164.35" width="6.99" height="7.05" fill="#2c16d6"/>
<rect x="162.84" y="164.35" width="6.99" height="7.05" fill="#3c12bc"/>
<rect x="169.83" y="164.35" width="6.99" height="7.05" fill="#8680ec"/>
<rect x="176.82" y="164.35" width="6.99" height="7.05" fill="#d8d8f6"/>
<rect x="183.81" y="164.35" width="6.99" height="7.05" fill="#3c12bc"/>
<rect x="190.80" y="164.35" width="6.99" height="7.05" fill="#2c16d6"/>
<rect x="197.79" y="164.35" width="6.99" height="7.05" fill="#8680ec"/>
<rect x="204.78" y="164.35" width="6.99" height="7.05" fill="#f4a0a4"/>
<rect x="211.77" y="164.35" width="6.99" height="7.05" fill="#3c12bc"/>
<rect x="218.76" y="164.35" width="6.99" height="7.05" fill="#8680ec"/>
<rect x="120.90" y="171.40" width="6.99" height="7.05" fill="#8680ec"/>
<rect x="127.89" y="171.40" width="6.99" height="7.05" fill="#2c16d6"/>
<rect x="134.88" y="171.40" width="6.99" height="7.05" fill="#8680ec"/>
<rect x="141.87" y="171.40" width="6.99" height="7.05" fill="#d8d8f6"/>
<rect x="148.86" y="171.40" width="6.99" height="7.05" fill="#d8d8f6"/>
<rect x="155.85" y="171.40" width="6.99" height="7.05" fill="#d8d8f6"/>
<rect x="162.84" y="171.40" width="6.99" height="7.05" fill="#8680ec"/>
<rect x="169.83" y="171.40" width="6.99" height="7.05" fill="#2c16d6"/>
<rect x="176.82" y="171.40" width="6.99" height="7.05" fill="#8680ec"/>
<rect x="183.81" y="171.40" width="6.99" height="7.05" fill="#8680ec"/>
<rect x="190.80" y="171.40" width="6.99" height="7.05" fill="#f05456"/>
<rect x="197.79" y="171.40" width="6.99" height="7.05" fill="#8680ec"/>
<rect x="204.78" y="171.40" width="6.99" height="7.05" fill="#3c12bc"/>
<rect x="211.77" y="171.40" width="6.99" height="7.05" fill="#e61c1c"/>
<rect x="218.76" y="171.40" width="6.99" height="7.05" fill="#8680ec"/>
<rect x="120.90" y="178.45" width="6.99" height="7.05" fill="#e61c1c"/>
<rect x="127.89" y="178.45" width="6.99" height="7.05" fill="#d8d8f6"/>
<rect x="134.88" y="178.45" width="6.99" height="7.05" fill="#e61c1c"/>
<rect x="141.87" y="178.45" width="6.99" height="7.05" fill="#f4dcea"/>
<rect x="148.86" y="178.45" width="6.99" height="7.05" fill="#f4dcea"/>
<rect x="155.85" y="178.45" width="6.99" height="7.05" fill="#f4a0a4"/>
<rect x="162.84" y="178.45" width="6.99" height="7.05" fill="#e61c1c"/>
<rect x="169.83" y="178.45" width="6.99" height="7.05" fill="#e61c1c"/>
<rect x="176.82" y="178.45" width="6.99" height="7.05" fill="#e61c1c"/>
<rect x="183.81" y="178.45" width="6.99" height="7.05" fill="#f4a0a4"/>
<rect x="190.80" y="178.45" width="6.99" height="7.05" fill="#e61c1c"/>
<rect x="197.79" y="178.45" width="6.99" height="7.05" fill="#e61c1c"/>
<rect x="204.78" y="178.45" width="6.99" height="7.05" fill="#f4dcea"/>
<rect x="211.77" y="178.45" width="6.99" height="7.05" fill="#e61c1c"/>
<rect x="218.76" y="178.45" width="6.99" height="7.05" fill="#2c16d6"/>
<rect x="120.90" y="185.50" width="6.99" height="7.05" fill="#f05456"/>
<rect x="127.89" y="185.50" width="6.99" height="7.05" fill="#e61c1c"/>
<rect x="134.88" y="185.50" width="6.99" height="7.05" fill="#e61c1c"/>
<rect x="141.87" y="185.50" width="6.99" height="7.05" fill="#f05456"/>
<rect x="148.86" y="185.50" width="6.99" height="7.05" fill="#e61c1c"/>
<rect x="155.85" y="185.50" width="6.99" height="7.05" fill="#e61c1c"/>
<rect x="162.84" y="185.50" width="6.99" height="7.05" fill="#f05456"/>
<rect x="169.83" y="185.50" width="6.99" height="7.05" fill="#f05456"/>
<rect x="176.82" y="185.50" width="6.99" height="7.05" fill="#f05456"/>
<rect x="183.81" y="185.50" width="6.99" height="7.05" fill="#f05456"/>
<rect x="190.80" y="185.50" width="6.99" height="7.05" fill="#f05456"/>
<rect x="197.79" y="185.50" width="6.99" height="7.05" fill="#f05456"/>
<rect x="204.78" y="185.50" width="6.99" height="7.05" fill="#e61c1c"/>
<rect x="211.77" y="185.50" width="6.99" height="7.05" fill="#f05456"/>
<rect x="218.76" y="185.50" width="6.99" height="7.05" fill="#e61c1c"/>
<rect x="120.90" y="192.55" width="6.99" height="7.05" fill="#f05456"/>
<rect x="127.89" y="192.55" width="6.99" height="7.05" fill="#d60808"/>
<rect x="134.88" y="192.55" width="6.99" height="7.05" fill="#d60808"/>
<rect x="141.87" y="192.55" width="6.99" height="7.05" fill="#d60808"/>
<rect x="148.86" y="192.55" width="6.99" height="7.05" fill="#d60808"/>
<rect x="155.85" y="192.55" width="6.99" height="7.05" fill="#d60808"/>
<rect x="162.84" y="192.55" width="6.99" height="7.05" fill="#d60808"/>
<rect x="169.83" y="192.55" width="6.99" height="7.05" fill="#d60808"/>
<rect x="176.82" y="192.55" width="6.99" height="7.05" fill="#d60808"/>
<rect x="183.81" y="192.55" width="6.99" height="7.05" fill="#d60808"/>
<rect x="190.80" y="192.55" width="6.99" height="7.05" fill="#f05456"/>
<rect x="197.79" y="192.55" width="6.99" height="7.05" fill="#e61c1c"/>
<rect x="204.78" y="192.55" width="6.99" height="7.05" fill="#f05456"/>
<rect x="211.77" y="192.55" width="6.99" height="7.05" fill="#e61c1c"/>
<rect x="218.76" y="192.55" width="6.99" height="7.05" fill="#e61c1c"/>
<path d="M120.90 157.30V199.60M127.89 157.30V199.60M134.88 157.30V199.60M141.87 157.30V199.60M148.86 157.30V199.60M155.85 157.30V199.60M162.84 157.30V199.60M169.83 157.30V199.60M176.82 157.30V199.60M183.81 157.30V199.60M190.80 157.30V199.60M197.79 157.30V199.60M204.78 157.30V199.60M211.77 157.30V199.60M218.76 157.30V199.60M225.75 157.30V199.60M120.90 157.30H225.75M120.90 164.35H225.75M120.90 171.40H225.75M120.90 178.45H225.75M120.90 185.50H225.75M120.90 192.55H225.75M120.90 199.60H225.75" stroke="#2a1010" stroke-width="0.55" fill="none"/>
<rect x="120.90" y="157.30" width="104.85" height="42.30" fill="none" stroke="#111" stroke-width="0.9"/>
<text transform="translate(126.85,155.2) rotate(-90)" x="0" y="0" font-size="6.9" font-weight="bold" fill="#111">CCND3</text>
<text transform="translate(133.83,155.2) rotate(-90)" x="0" y="0" font-size="6.9" font-weight="bold" fill="#111">PMAIP1</text>
<text transform="translate(140.82,155.2) rotate(-90)" x="0" y="0" font-size="6.9" font-weight="bold" fill="#111">FAS</text>
<text transform="translate(147.81,155.2) rotate(-90)" x="0" y="0" font-size="6.9" font-weight="bold" fill="#111">CCNE2</text>
<text transform="translate(154.81,155.2) rotate(-90)" x="0" y="0" font-size="6.9" font-weight="bold" fill="#111">GADD45G</text>
<text transform="translate(161.80,155.2) rotate(-90)" x="0" y="0" font-size="6.9" font-weight="bold" fill="#111">MDM4</text>
<text transform="translate(168.78,155.2) rotate(-90)" x="0" y="0" font-size="6.9" font-weight="bold" fill="#111">RRM2</text>
<text transform="translate(175.78,155.2) rotate(-90)" x="0" y="0" font-size="6.9" font-weight="bold" fill="#111">PPM1D</text>
<text transform="translate(182.76,155.2) rotate(-90)" x="0" y="0" font-size="6.9" font-weight="bold" fill="#111">RRM2B</text>
<text transform="translate(189.75,155.2) rotate(-90)" x="0" y="0" font-size="6.9" font-weight="bold" fill="#111">CCNB2</text>
<text transform="translate(196.75,155.2) rotate(-90)" x="0" y="0" font-size="6.9" font-weight="bold" fill="#111">SESN1</text>
<text transform="translate(203.74,155.2) rotate(-90)" x="0" y="0" font-size="6.9" font-weight="bold" fill="#111">SCOTIN</text>
<text transform="translate(210.72,155.2) rotate(-90)" x="0" y="0" font-size="6.9" font-weight="bold" fill="#111">CCND2</text>
<text transform="translate(217.72,155.2) rotate(-90)" x="0" y="0" font-size="6.9" font-weight="bold" fill="#111">CCNG2</text>
<text transform="translate(224.70,155.2) rotate(-90)" x="0" y="0" font-size="6.9" font-weight="bold" fill="#111">APAF1</text>
<path d="M117.5 158.5Q114.3 158.5 114.3 160.5V166.85Q114.3 167.85 111.3 167.85Q114.3 167.85 114.3 168.85V175.2Q114.3 177.2 117.5 177.2" stroke="#111" stroke-width="0.9" fill="none"/>
<text x="102.6" y="171.4" font-size="10.4" text-anchor="start" font-weight="bold" fill="#111">L</text>
<path d="M117.5 180.0Q114.3 180.0 114.3 182.0V188.45Q114.3 189.45 111.3 189.45Q114.3 189.45 114.3 190.45V196.9Q114.3 198.9 117.5 198.9" stroke="#111" stroke-width="0.9" fill="none"/>
<text x="102.3" y="193.3" font-size="10.4" text-anchor="start" font-weight="bold" fill="#111">P</text>
<rect x="390.20" y="156.20" width="7.45" height="7.30" fill="#3c12bc"/>
<rect x="397.65" y="156.20" width="7.45" height="7.30" fill="#3c12bc"/>
<rect x="405.10" y="156.20" width="7.45" height="7.30" fill="#3c12bc"/>
<rect x="412.55" y="156.20" width="7.45" height="7.30" fill="#3c12bc"/>
<rect x="420.00" y="156.20" width="7.45" height="7.30" fill="#d8d8f6"/>
<rect x="427.45" y="156.20" width="7.45" height="7.30" fill="#3c12bc"/>
<rect x="434.90" y="156.20" width="7.45" height="7.30" fill="#3c12bc"/>
<rect x="442.35" y="156.20" width="7.45" height="7.30" fill="#3c12bc"/>
<rect x="390.20" y="163.50" width="7.45" height="7.30" fill="#8680ec"/>
<rect x="397.65" y="163.50" width="7.45" height="7.30" fill="#d8d8f6"/>
<rect x="405.10" y="163.50" width="7.45" height="7.30" fill="#8680ec"/>
<rect x="412.55" y="163.50" width="7.45" height="7.30" fill="#2c16d6"/>
<rect x="420.00" y="163.50" width="7.45" height="7.30" fill="#3c12bc"/>
<rect x="427.45" y="163.50" width="7.45" height="7.30" fill="#3c12bc"/>
<rect x="434.90" y="163.50" width="7.45" height="7.30" fill="#8680ec"/>
<rect x="442.35" y="163.50" width="7.45" height="7.30" fill="#2c16d6"/>
<rect x="390.20" y="170.80" width="7.45" height="7.30" fill="#d8d8f6"/>
<rect x="397.65" y="170.80" width="7.45" height="7.30" fill="#d8d8f6"/>
<rect x="405.10" y="170.80" width="7.45" height="7.30" fill="#f4dcea"/>
<rect x="412.55" y="170.80" width="7.45" height="7.30" fill="#f4dcea"/>
<rect x="420.00" y="170.80" width="7.45" height="7.30" fill="#8680ec"/>
<rect x="427.45" y="170.80" width="7.45" height="7.30" fill="#f05456"/>
<rect x="434.90" y="170.80" width="7.45" height="7.30" fill="#f05456"/>
<rect x="442.35" y="170.80" width="7.45" height="7.30" fill="#e61c1c"/>
<rect x="390.20" y="178.10" width="7.45" height="7.30" fill="#f05456"/>
<rect x="397.65" y="178.10" width="7.45" height="7.30" fill="#e61c1c"/>
<rect x="405.10" y="178.10" width="7.45" height="7.30" fill="#f05456"/>
<rect x="412.55" y="178.10" width="7.45" height="7.30" fill="#f05456"/>
<rect x="420.00" y="178.10" width="7.45" height="7.30" fill="#f05456"/>
<rect x="427.45" y="178.10" width="7.45" height="7.30" fill="#e61c1c"/>
<rect x="434.90" y="178.10" width="7.45" height="7.30" fill="#e61c1c"/>
<rect x="442.35" y="178.10" width="7.45" height="7.30" fill="#e61c1c"/>
<rect x="390.20" y="185.40" width="7.45" height="7.30" fill="#e61c1c"/>
<rect x="397.65" y="185.40" width="7.45" height="7.30" fill="#f4a0a4"/>
<rect x="405.10" y="185.40" width="7.45" height="7.30" fill="#f05456"/>
<rect x="412.55" y="185.40" width="7.45" height="7.30" fill="#f05456"/>
<rect x="420.00" y="185.40" width="7.45" height="7.30" fill="#e61c1c"/>
<rect x="427.45" y="185.40" width="7.45" height="7.30" fill="#f05456"/>
<rect x="434.90" y="185.40" width="7.45" height="7.30" fill="#f05456"/>
<rect x="442.35" y="185.40" width="7.45" height="7.30" fill="#e61c1c"/>
<rect x="390.20" y="192.70" width="7.45" height="7.30" fill="#e61c1c"/>
<rect x="397.65" y="192.70" width="7.45" height="7.30" fill="#f05456"/>
<rect x="405.10" y="192.70" width="7.45" height="7.30" fill="#e61c1c"/>
<rect x="412.55" y="192.70" width="7.45" height="7.30" fill="#e61c1c"/>
<rect x="420.00" y="192.70" width="7.45" height="7.30" fill="#e61c1c"/>
<rect x="427.45" y="192.70" width="7.45" height="7.30" fill="#e61c1c"/>
<rect x="434.90" y="192.70" width="7.45" height="7.30" fill="#f4a0a4"/>
<rect x="442.35" y="192.70" width="7.45" height="7.30" fill="#e61c1c"/>
<path d="M390.20 156.20V200.00M397.65 156.20V200.00M405.10 156.20V200.00M412.55 156.20V200.00M420.00 156.20V200.00M427.45 156.20V200.00M434.90 156.20V200.00M442.35 156.20V200.00M449.80 156.20V200.00M390.20 156.20H449.80M390.20 163.50H449.80M390.20 170.80H449.80M390.20 178.10H449.80M390.20 185.40H449.80M390.20 192.70H449.80M390.20 200.00H449.80" stroke="#2a1010" stroke-width="0.55" fill="none"/>
<rect x="390.20" y="156.20" width="59.60" height="43.80" fill="none" stroke="#111" stroke-width="0.9"/>
<text transform="translate(396.38,154.0) rotate(-90)" x="0" y="0" font-size="6.9" font-weight="bold" fill="#111">CDKN2D</text>
<text transform="translate(403.82,154.0) rotate(-90)" x="0" y="0" font-size="6.9" font-weight="bold" fill="#111">EP300</text>
<text transform="translate(411.27,154.0) rotate(-90)" x="0" y="0" font-size="6.9" font-weight="bold" fill="#111">APC</text>
<text transform="translate(418.73,154.0) rotate(-90)" x="0" y="0" font-size="6.9" font-weight="bold" fill="#111">RB1</text>
<text transform="translate(426.18,154.0) rotate(-90)" x="0" y="0" font-size="6.9" font-weight="bold" fill="#111">IRF1</text>
<text transform="translate(433.62,154.0) rotate(-90)" x="0" y="0" font-size="6.9" font-weight="bold" fill="#111">TGFBR1</text>
<text transform="translate(441.07,154.0) rotate(-90)" x="0" y="0" font-size="6.9" font-weight="bold" fill="#111">CREBBP</text>
<text transform="translate(448.52,154.0) rotate(-90)" x="0" y="0" font-size="6.9" font-weight="bold" fill="#111">CDKN1B</text>
<path d="M385.8 158.3Q382.6 158.3 382.6 160.3V166.55Q382.6 167.55 379.6 167.55Q382.6 167.55 382.6 168.55V174.8Q382.6 176.8 385.8 176.8" stroke="#111" stroke-width="0.9" fill="none"/>
<text x="368.9" y="171.5" font-size="10.4" text-anchor="start" font-weight="bold" fill="#111">L</text>
<path d="M385.8 180.0Q382.6 180.0 382.6 182.0V188.3Q382.6 189.3 379.6 189.3Q382.6 189.3 382.6 190.3V196.6Q382.6 198.6 385.8 198.6" stroke="#111" stroke-width="0.9" fill="none"/>
<text x="369.0" y="192.7" font-size="10.4" text-anchor="start" font-weight="bold" fill="#111">P</text>
<rect x="389.10" y="531.10" width="6.95" height="7.03" fill="#3c12bc"/>
<rect x="396.05" y="531.10" width="6.95" height="7.03" fill="#3c12bc"/>
<rect x="403.00" y="531.10" width="6.95" height="7.03" fill="#3c12bc"/>
<rect x="409.95" y="531.10" width="6.95" height="7.03" fill="#3c12bc"/>
<rect x="416.90" y="531.10" width="6.95" height="7.03" fill="#3c12bc"/>
<rect x="423.85" y="531.10" width="6.95" height="7.03" fill="#3c12bc"/>
<rect x="430.80" y="531.10" width="6.95" height="7.03" fill="#3c12bc"/>
<rect x="437.75" y="531.10" width="6.95" height="7.03" fill="#3c12bc"/>
<rect x="444.70" y="531.10" width="6.95" height="7.03" fill="#3c12bc"/>
<rect x="451.65" y="531.10" width="6.95" height="7.03" fill="#3c12bc"/>
<rect x="458.60" y="531.10" width="6.95" height="7.03" fill="#3c12bc"/>
<rect x="465.55" y="531.10" width="6.95" height="7.03" fill="#d8d8f6"/>
<rect x="389.10" y="538.13" width="6.95" height="7.03" fill="#8680ec"/>
<rect x="396.05" y="538.13" width="6.95" height="7.03" fill="#3c12bc"/>
<rect x="403.00" y="538.13" width="6.95" height="7.03" fill="#2c16d6"/>
<rect x="409.95" y="538.13" width="6.95" height="7.03" fill="#3c12bc"/>
<rect x="416.90" y="538.13" width="6.95" height="7.03" fill="#8680ec"/>
<rect x="423.85" y="538.13" width="6.95" height="7.03" fill="#2c16d6"/>
<rect x="430.80" y="538.13" width="6.95" height="7.03" fill="#2c16d6"/>
<rect x="437.75" y="538.13" width="6.95" height="7.03" fill="#3c12bc"/>
<rect x="444.70" y="538.13" width="6.95" height="7.03" fill="#f4dcea"/>
<rect x="451.65" y="538.13" width="6.95" height="7.03" fill="#f4a0a4"/>
<rect x="458.60" y="538.13" width="6.95" height="7.03" fill="#f4dcea"/>
<rect x="465.55" y="538.13" width="6.95" height="7.03" fill="#d8d8f6"/>
<rect x="389.10" y="545.16" width="6.95" height="7.03" fill="#d8d8f6"/>
<rect x="396.05" y="545.16" width="6.95" height="7.03" fill="#d8d8f6"/>
<rect x="403.00" y="545.16" width="6.95" height="7.03" fill="#f4a0a4"/>
<rect x="409.95" y="545.16" width="6.95" height="7.03" fill="#d8d8f6"/>
<rect x="416.90" y="545.16" width="6.95" height="7.03" fill="#f4a0a4"/>
<rect x="423.85" y="545.16" width="6.95" height="7.03" fill="#f05456"/>
<rect x="430.80" y="545.16" width="6.95" height="7.03" fill="#f4a0a4"/>
<rect x="437.75" y="545.16" width="6.95" height="7.03" fill="#e61c1c"/>
<rect x="444.70" y="545.16" width="6.95" height="7.03" fill="#d8d8f6"/>
<rect x="451.65" y="545.16" width="6.95" height="7.03" fill="#d8d8f6"/>
<rect x="458.60" y="545.16" width="6.95" height="7.03" fill="#f4a0a4"/>
<rect x="465.55" y="545.16" width="6.95" height="7.03" fill="#3c12bc"/>
<rect x="389.10" y="552.19" width="6.95" height="7.03" fill="#f05456"/>
<rect x="396.05" y="552.19" width="6.95" height="7.03" fill="#e61c1c"/>
<rect x="403.00" y="552.19" width="6.95" height="7.03" fill="#e61c1c"/>
<rect x="409.95" y="552.19" width="6.95" height="7.03" fill="#f4dcea"/>
<rect x="416.90" y="552.19" width="6.95" height="7.03" fill="#f4dcea"/>
<rect x="423.85" y="552.19" width="6.95" height="7.03" fill="#f05456"/>
<rect x="430.80" y="552.19" width="6.95" height="7.03" fill="#f4a0a4"/>
<rect x="437.75" y="552.19" width="6.95" height="7.03" fill="#d8d8f6"/>
<rect x="444.70" y="552.19" width="6.95" height="7.03" fill="#f4a0a4"/>
<rect x="451.65" y="552.19" width="6.95" height="7.03" fill="#f05456"/>
<rect x="458.60" y="552.19" width="6.95" height="7.03" fill="#f4a0a4"/>
<rect x="465.55" y="552.19" width="6.95" height="7.03" fill="#2c16d6"/>
<rect x="389.10" y="559.22" width="6.95" height="7.03" fill="#e61c1c"/>
<rect x="396.05" y="559.22" width="6.95" height="7.03" fill="#f4a0a4"/>
<rect x="403.00" y="559.22" width="6.95" height="7.03" fill="#f4a0a4"/>
<rect x="409.95" y="559.22" width="6.95" height="7.03" fill="#e61c1c"/>
<rect x="416.90" y="559.22" width="6.95" height="7.03" fill="#f05456"/>
<rect x="423.85" y="559.22" width="6.95" height="7.03" fill="#f05456"/>
<rect x="430.80" y="559.22" width="6.95" height="7.03" fill="#f05456"/>
<rect x="437.75" y="559.22" width="6.95" height="7.03" fill="#f05456"/>
<rect x="444.70" y="559.22" width="6.95" height="7.03" fill="#e61c1c"/>
<rect x="451.65" y="559.22" width="6.95" height="7.03" fill="#e61c1c"/>
<rect x="458.60" y="559.22" width="6.95" height="7.03" fill="#f4a0a4"/>
<rect x="465.55" y="559.22" width="6.95" height="7.03" fill="#e61c1c"/>
<rect x="389.10" y="566.25" width="6.95" height="7.03" fill="#e61c1c"/>
<rect x="396.05" y="566.25" width="6.95" height="7.03" fill="#f05456"/>
<rect x="403.00" y="566.25" width="6.95" height="7.03" fill="#f05456"/>
<rect x="409.95" y="566.25" width="6.95" height="7.03" fill="#f05456"/>
<rect x="416.90" y="566.25" width="6.95" height="7.03" fill="#e61c1c"/>
<rect x="423.85" y="566.25" width="6.95" height="7.03" fill="#e61c1c"/>
<rect x="430.80" y="566.25" width="6.95" height="7.03" fill="#e61c1c"/>
<rect x="437.75" y="566.25" width="6.95" height="7.03" fill="#e61c1c"/>
<rect x="444.70" y="566.25" width="6.95" height="7.03" fill="#e61c1c"/>
<rect x="451.65" y="566.25" width="6.95" height="7.03" fill="#f4a0a4"/>
<rect x="458.60" y="566.25" width="6.95" height="7.03" fill="#e61c1c"/>
<rect x="465.55" y="566.25" width="6.95" height="7.03" fill="#f4a0a4"/>
<path d="M389.10 531.10V573.28M396.05 531.10V573.28M403.00 531.10V573.28M409.95 531.10V573.28M416.90 531.10V573.28M423.85 531.10V573.28M430.80 531.10V573.28M437.75 531.10V573.28M444.70 531.10V573.28M451.65 531.10V573.28M458.60 531.10V573.28M465.55 531.10V573.28M472.50 531.10V573.28M389.10 531.10H472.50M389.10 538.13H472.50M389.10 545.16H472.50M389.10 552.19H472.50M389.10 559.22H472.50M389.10 566.25H472.50M389.10 573.28H472.50" stroke="#2a1010" stroke-width="0.55" fill="none"/>
<rect x="389.10" y="531.10" width="83.40" height="42.18" fill="none" stroke="#111" stroke-width="0.9"/>
<text transform="translate(395.03,528.6) rotate(-90)" x="0" y="0" font-size="6.9" font-weight="bold" fill="#111">CDKN2D</text>
<text transform="translate(401.98,528.6) rotate(-90)" x="0" y="0" font-size="6.9" font-weight="bold" fill="#111">CDKN2C</text>
<text transform="translate(408.93,528.6) rotate(-90)" x="0" y="0" font-size="6.9" font-weight="bold" fill="#111">SESN1</text>
<text transform="translate(415.88,528.6) rotate(-90)" x="0" y="0" font-size="6.9" font-weight="bold" fill="#111">MAP2K6</text>
<text transform="translate(422.83,528.6) rotate(-90)" x="0" y="0" font-size="6.9" font-weight="bold" fill="#111">PCAF</text>
<text transform="translate(429.78,528.6) rotate(-90)" x="0" y="0" font-size="6.9" font-weight="bold" fill="#111">CDKN1B</text>
<text transform="translate(436.73,528.6) rotate(-90)" x="0" y="0" font-size="6.9" font-weight="bold" fill="#111">CUL3</text>
<text transform="translate(443.68,528.6) rotate(-90)" x="0" y="0" font-size="6.9" font-weight="bold" fill="#111">GADD45A</text>
<text transform="translate(450.63,528.6) rotate(-90)" x="0" y="0" font-size="6.9" font-weight="bold" fill="#111">CUL2</text>
<text transform="translate(457.58,528.6) rotate(-90)" x="0" y="0" font-size="6.9" font-weight="bold" fill="#111">CDKN3</text>
<text transform="translate(464.53,528.6) rotate(-90)" x="0" y="0" font-size="6.9" font-weight="bold" fill="#111">EIF4G2</text>
<text transform="translate(471.48,528.6) rotate(-90)" x="0" y="0" font-size="6.9" font-weight="bold" fill="#111">PLAGL1</text>
<path d="M383.59999999999997 532.3Q380.4 532.3 380.4 534.3V540.75Q380.4 541.75 377.4 541.75Q380.4 541.75 380.4 542.75V549.2Q380.4 551.2 383.59999999999997 551.2" stroke="#111" stroke-width="0.9" fill="none"/>
<text x="364.6" y="544.8" font-size="10.4" text-anchor="start" font-weight="bold" fill="#111">L</text>
<path d="M383.59999999999997 554.3Q380.4 554.3 380.4 556.3V562.75Q380.4 563.75 377.4 563.75Q380.4 563.75 380.4 564.75V571.2Q380.4 573.2 383.59999999999997 573.2" stroke="#111" stroke-width="0.9" fill="none"/>
<text x="363.8" y="566.5" font-size="10.4" text-anchor="start" font-weight="bold" fill="#111">P</text>
</svg></body></html>
